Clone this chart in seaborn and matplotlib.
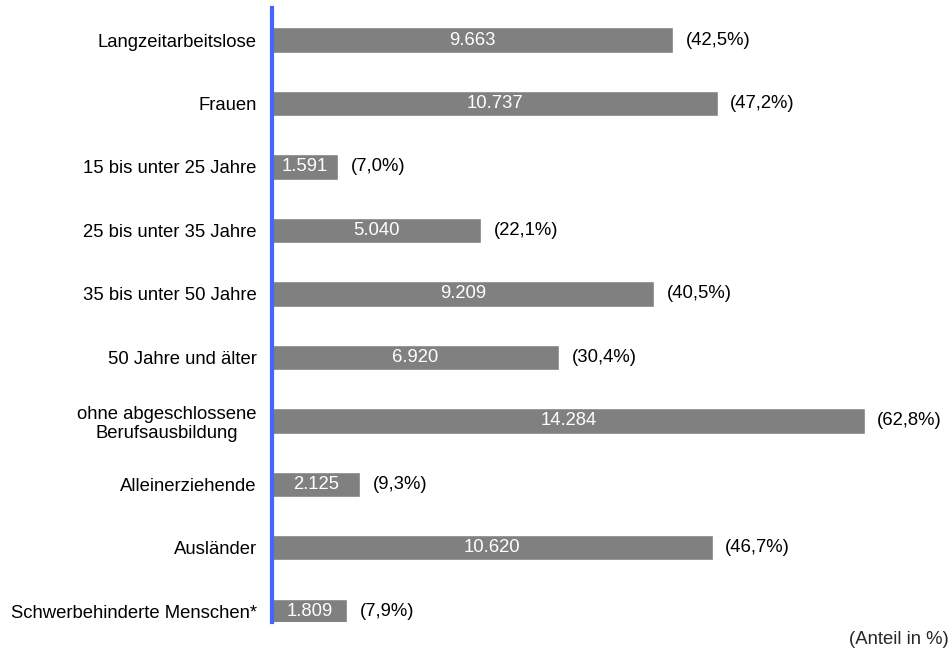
import matplotlib
matplotlib.use("Agg")
import matplotlib.pyplot as plt
import seaborn as sns
import pandas as pd

categories = [
    "Langzeitarbeitslose",
    "Frauen",
    "15 bis unter 25 Jahre",
    "25 bis unter 35 Jahre",
    "35 bis unter 50 Jahre",
    "50 Jahre und älter",
    "ohne abgeschlossene\nBerufsausbildung",
    "Alleinerziehende",
    "Ausländer",
    "Schwerbehinderte Menschen*",
]
values = [9663, 10737, 1591, 5040, 9209, 6920, 14284, 2125, 10620, 1809]
shares = [42.5, 47.2, 7.0, 22.1, 40.5, 30.4, 62.8, 9.3, 46.7, 7.9]

sns.set_theme(style="white")
plt.rcParams["font.family"] = ["Liberation Sans", "DejaVu Sans"]

FS = 13.3

df = pd.DataFrame({"cat": categories, "val": values, "share": shares})

fig = plt.figure(figsize=(9.52, 6.5), dpi=100)
ax = fig.add_axes([272 / 952, 1 - 622 / 650, (936 - 272) / 952, (622 - 8) / 650])

sns.barplot(data=df, y="cat", x="val", orient="h", color="#808080",
            saturation=1, width=0.4, ax=ax)

ax.set_xlim(0, 16000)
ax.set_ylim(9.17, -0.505)

for i, (v, s) in enumerate(zip(values, shares)):
    lbl = f"{v:,}".replace(",", ".")
    ax.text(v / 2, i, lbl, color="white", ha="center", va="center", fontsize=FS)
    ax.annotate(f"({s:.1f}%)".replace(".", ","), xy=(v, i), xytext=(9, 0),
                textcoords="offset points", ha="left", va="center", fontsize=FS,
                color="black")

for sp in ["top", "right", "bottom"]:
    ax.spines[sp].set_visible(False)
ax.spines["left"].set_color("#4466FF")
ax.spines["left"].set_linewidth(3)

ax.set_xticks([])
ax.set_xlabel("")
ax.set_ylabel("")
ax.tick_params(axis="y", length=0, pad=11, labelsize=FS, colors="black")
for t in ax.get_yticklabels():
    t.set_multialignment("center")

fig.text(949 / 952, 1 - 640 / 650, "(Anteil in %)", ha="right", va="center", fontsize=FS)

fig.savefig("out.png", dpi=100)
